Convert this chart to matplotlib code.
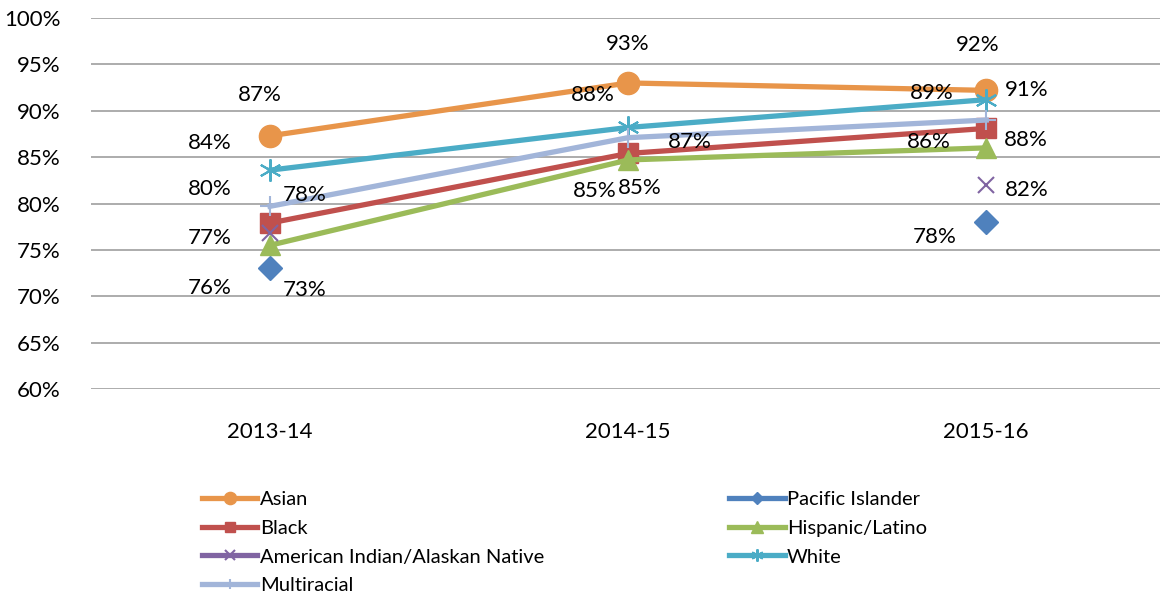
import matplotlib
matplotlib.use('Agg')
import matplotlib.pyplot as plt
import numpy as np

years = ['2013-14', '2014-15', '2015-16']

asian = [87.3, 93.0, 92.2]
pacific = [73.0, np.nan, 78.0]
black = [77.9, 85.4, 88.1]
hispanic = [75.5, 84.7, 86.0]
amind = [76.8, np.nan, 82.0]
white = [83.6, 88.2, 91.2]
multi = [79.7, 87.1, 89.0]

plt.rcParams['font.family'] = ['Lato', 'DejaVu Sans']

fig = plt.figure(figsize=(11.6, 6.01), dpi=100)
ax = fig.add_axes([0.0784, 0.3527, 0.9216, 0.6173])

x = np.arange(len(years))

# label offsets in pixels (dx, dy) per point
series = [
    ('Asian', asian, '#E8954A', 'o', 16, [(-10, 41), (0, 39), (-9, 45)]),
    ('Pacific Islander', pacific, '#4F81BD', 'D', 12, [(35, -22), None, (-52, -15)]),
    ('Black', black, '#C0504D', 's', 14, [(35, 28), (-33, -38), (40, -12)]),
    ('Hispanic/Latino', hispanic, '#9BBB59', '^', 15, [(-60, -43), (12, -28), (-57, 6)]),
    ('American Indian/Alaskan Native', amind, '#8064A2', 'x', 12, [(-60, -5), None, (40, -5)]),
    ('White', white, '#4BACC6', (6, 2, 0), 16, [(-60, 27), (-35, 32), (40, 10)]),
    ('Multiracial', multi, '#A2B5D9', '+', 14, [(-60, 17), (62, -4), (-55, 27)]),
]

handles = {}
for name, vals, col, mk, ms, offs in series:
    if mk in ('x', '+') or isinstance(mk, tuple):
        ln, = ax.plot(x, vals, color=col, lw=3.8, marker=mk, ms=ms, mew=1.5,
                      label=name, zorder=3)
    else:
        ln, = ax.plot(x, vals, color=col, lw=3.8, marker=mk, ms=ms,
                      mec=col, label=name, zorder=3)
    handles[name] = ln
    for i in range(len(vals)):
        if offs[i] is None or np.isnan(vals[i]):
            continue
        ax.annotate('%d%%' % round(vals[i]), (x[i], vals[i]), xytext=offs[i],
                    textcoords='offset pixels', ha='center', va='center',
                    fontsize=16, color='black', zorder=5)

ax.set_ylim(60, 100)
ax.set_xlim(-0.5, 2.485)
ax.set_yticks(np.arange(60, 101, 5))
ax.set_yticklabels(['%d%%' % v for v in range(60, 101, 5)], fontsize=16)
ax.set_xticks(x)
ax.set_xticklabels(years, fontsize=16)
ax.tick_params(length=0, pad=22)
ax.tick_params(axis='x', pad=24)
ax.grid(axis='y', color='#A6A6A6', lw=1.3)
ax.set_axisbelow(True)
for s in ax.spines.values():
    s.set_visible(False)

order = ['Asian', 'Black', 'American Indian/Alaskan Native', 'Multiracial',
         'Pacific Islander', 'Hispanic/Latino', 'White']
leg = fig.legend([handles[n] for n in order], order, ncol=2, loc='upper left',
                 bbox_to_anchor=(0.1655, 0.2), frameon=False, fontsize=14.5,
                 handlelength=2.75, handletextpad=0.12, columnspacing=9.2,
                 labelspacing=0.58, borderpad=0, markerscale=0.55)

fig.savefig('out.png', dpi=100)
